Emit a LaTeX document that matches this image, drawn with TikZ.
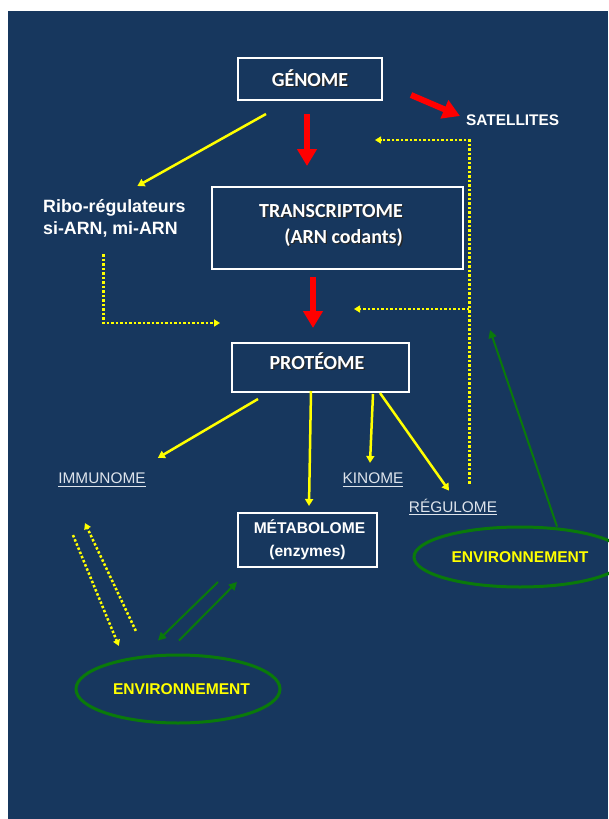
\documentclass[tikz,border=0pt]{standalone}
\usepackage{fontspec}
\setmainfont{Liberation Sans}
\newfontfamily\calib{Carlito}
\usetikzlibrary{arrows.meta,shapes.geometric}
\definecolor{bg}{RGB}{23,55,94}
\definecolor{ylw}{RGB}{255,255,0}
\definecolor{rd}{RGB}{255,0,0}
\definecolor{grn}{RGB}{10,122,10}
\definecolor{lbl}{RGB}{222,228,236}
\newcommand\shd[1]{\leavevmode\rlap{\kern1.3pt\raisebox{-1.3pt}{\textcolor{black!85}{#1}}}#1}
\newcommand\ulbl[1]{\setbox0\hbox{#1}\rlap{\rule[-3pt]{\wd0}{1.1pt}}\box0}
\begin{document}
\begin{tikzpicture}[x=1pt,y=-1pt,
 box/.style={draw=white, line width=2pt, rectangle, inner sep=0pt, text=white, font=\calib\bfseries\fontsize{20}{26}\selectfont},
 plain/.style={text=white, inner sep=0pt},
 ulab/.style={text=lbl, inner sep=0pt, font=\fontsize{15.4}{18}\selectfont},
 env/.style={ellipse, draw=grn, line width=3pt, text=ylw, font=\bfseries\fontsize{15.6}{18}\selectfont, inner sep=0pt},
 redarr/.style={draw=rd, line width=6pt, -{Triangle[width=19pt,length=17pt]}},
 yarr/.style={draw=ylw, line width=2.5pt, -{Triangle[width=8pt,length=7pt]}},
 ydot/.style={draw=ylw, line width=2.5pt, dash pattern=on 2.5pt off 2pt, -{Triangle[width=7pt,length=6pt]}},
 garr/.style={draw=grn, line width=2pt, -{Triangle[width=8pt,length=8pt]}},
]
\fill[white] (0,0) rectangle (608,819);
\useasboundingbox (0,0) rectangle (608,819);
\fill[bg] (8,11) rectangle (608,819);

% nodes
\node[box, minimum width=144, minimum height=42] (genome) at (310,79) {\shd{GÉNOME}};
\node[plain, font=\bfseries\fontsize{15.4}{18}\selectfont, anchor=west] (satellites) at (466,120) {SATELLITES};
\node[plain, font=\bfseries\fontsize{17.8}{22}\selectfont, align=left, anchor=north west] (ribo) at (43,199) {Ribo-régulateurs\\si-ARN, mi-ARN};
\node[box, minimum width=251, minimum height=82] (transcriptome) at (337.5,228)
  {\hspace*{-13pt}\raisebox{3pt}[\height][\depth]{\begin{tabular}{@{}r@{}}\shd{TRANSCRIPTOME}\\\shd{(ARN codants)}\end{tabular}}};
\node[box, minimum width=177, minimum height=49] (proteome) at (320.5,367.5)
  {\hspace*{-7pt}\raisebox{6pt}[\height][\depth]{\shd{PROTÉOME}}};
\node[box, font=\bfseries\fontsize{15.6}{23}\selectfont, align=center, minimum width=139, minimum height=54] (metabolome) at (307.5,540) {\hspace*{4pt}MÉTABOLOME\\(enzymes)};
\node[ulab] (immunome) at (102,480) {\ulbl{IMMUNOME}};
\node[ulab] (kinome) at (373,480) {\ulbl{KINOME}};
\node[ulab] (regulome) at (453,507) {\ulbl{RÉGULOME}};
\node[env, minimum width=204, minimum height=68] (env1) at (178,689) {\hspace*{7pt}ENVIRONNEMENT};
\node[env, minimum width=212, minimum height=60] (env2) at (520,557) {ENVIRONNEMENT};

% free-end coordinates
\coordinate (ribotip) at (220,323);
\coordinate (fbtop) at (375,140);
\coordinate (fbmid) at (354,309);
\coordinate (envtip) at (490,330);

% red arrows
\path ([xshift=-3pt]genome.south) coordinate (g1);
\draw[redarr, shorten <=13pt, shorten >=20pt] (g1) -- (g1 |- transcriptome.north);
\path ([xshift=-24.5pt]transcriptome.south) coordinate (t1);
\draw[redarr, shorten <=7pt, shorten >=14pt] (t1) -- (t1 |- proteome.north);
\draw[redarr] ([shift={(28,16)}]genome.east) -- ([shift={(-6,-4)}]satellites.west);

% yellow solid arrows
\draw[yarr] ([shift={(29,13)}]genome.south west) -- ([shift={(23,-13)}]ribo.north);
\draw[yarr] ([shift={(27,6)}]proteome.south west) -- ([shift={(12,-15)}]immunome.north east);
\draw[yarr] ([shift={(-9.5,-2)}]proteome.south) -- ([shift={(1.5,-6)}]metabolome.north);
\draw[yarr] ([shift={(-37,1)}]proteome.south east) -- ([shift={(-3,-10)}]kinome.north);
\draw[yarr] ([shift={(-30,0)}]proteome.south east) -- ([shift={(-4,-8)}]regulome.north);

% yellow dotted arrows
\draw[ydot] ([shift={(-11,17)}]ribo.south) |- (ribotip);
\path ([shift={(-28,-15)}]regulome.north east) coordinate (r1);
\draw[ydot] (r1) |- (fbtop);
\draw[ydot] (r1 |- fbmid) -- (fbmid);
\draw[ydot] ([shift={(-29,48)}]immunome.south) -- ([shift={(14,-18)}]env1.north west);
\draw[ydot] ([shift={(31,-33)}]env1.north west) -- ([shift={(-17,36)}]immunome.south);

% green arrows
\draw[garr] ([shift={(-19,14)}]metabolome.south west) -- ([shift={(-20,-13)}]env1.north);
\draw[garr] ([shift={(1,-13)}]env1.north) -- ([shift={(0,14)}]metabolome.south west);
\draw[garr] ([shift={(37,1)}]env2.north) -- (envtip);
\end{tikzpicture}
\end{document}
